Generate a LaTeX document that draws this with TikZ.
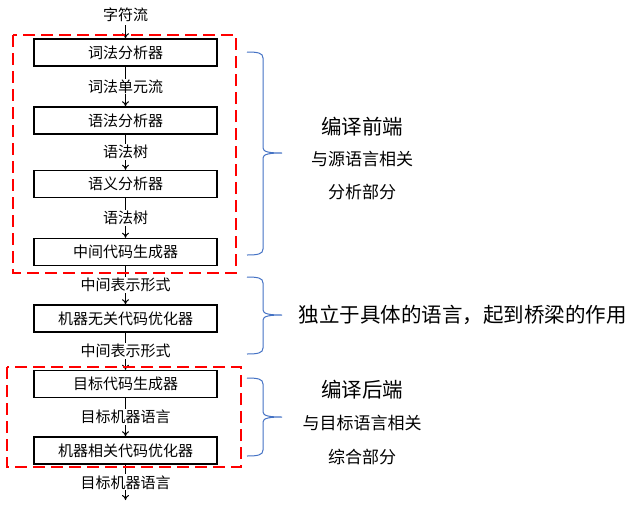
\documentclass[tikz,border=0pt]{standalone}
\usepackage{fontspec}
\setmainfont{Noto Sans CJK SC}
\usetikzlibrary{arrows.meta}

\begin{document}
\begin{tikzpicture}[x=1pt, y=-1pt, font=\fontsize{15}{18}\selectfont,
    stage/.style={draw, line width=1.5pt, minimum width=183pt, minimum height=27pt, inner sep=0pt},
    flow/.style={-{To[length=5pt,width=7pt]}, line width=1pt},
    tag/.style={fill=white, inner sep=1pt},
    part/.style={draw=red, line width=2.2pt, dash pattern=on 12pt off 6pt},
    bracket/.style={draw={rgb,255:red,68;green,114;blue,196}, line width=1pt},
    note/.style={font=\fontsize{17}{20}\selectfont},
    title/.style={font=\fontsize{20.5}{24}\selectfont}]
  \useasboundingbox (0,0) rectangle (637,507);

  % pipeline
  \node (src) at (125.5,15) {字符流};
  \node[stage] (b1) at (125.5,52.5) {词法分析器};
  \node[stage] (b2) at (125.5,120.5) {语法分析器};
  \node[stage] (b3) at (125.5,184) {语义分析器};
  \node[stage] (b4) at (125.5,252) {中间代码生成器};
  \node[stage] (b5) at (125.5,318.5) {机器无关代码优化器};
  \node[stage] (b6) at (125.5,384) {目标代码生成器};
  \node[stage] (b7) at (125.5,450.5) {机器相关代码优化器};
  \coordinate (out) at (125.5,500);

  \draw[flow] (src) -- (b1);
  \draw[flow] (b1) -- node[tag] {词法单元流} (b2);
  \draw[flow] (b2) -- node[tag] {语法树} (b3);
  \draw[flow] (b3) -- node[tag] {语法树} (b4);
  \draw[flow] (b4) -- node[tag] {中间表示形式} (b5);
  \draw[flow] (b5) -- node[tag] {中间表示形式} (b6);
  \draw[flow] (b6) -- node[tag] {目标机器语言} (b7);
  \draw[flow] (b7) -- node[tag] {目标机器语言} (out);

  % front end / back end
  \draw[part] (13,35) rectangle (236,273);
  \draw[part] (7,367) rectangle (241,467);

  % braces
  \foreach \ya/\ym/\yb in {52/153/255, 277/315/354, 378/417/456}
    \draw[bracket] (247,\ya) .. controls (258,\ya) and (263,\ya+1) .. (263,\ya+6)
      -- (263,\ym-5) .. controls (263,\ym-1) and (270,\ym) .. (282,\ym)
      .. controls (270,\ym) and (263,\ym+1) .. (263,\ym+5)
      -- (263,\yb-6) .. controls (263,\yb-1) and (258,\yb) .. (247,\yb);

  \node[title] (fe) at (362,127) {编译前端};
  \node[note] (fe1) at (362,159) {与源语言相关};
  \node[note] (fe2) at (362,192) {分析部分};
  \node[title, anchor=west] (mid) at (295,315) {独立于具体的语言，起到桥梁的作用};
  \node[title] (be) at (362,390) {编译后端};
  \node[note] (be1) at (362,423) {与目标语言相关};
  \node[note] (be2) at (362,457) {综合部分};
\end{tikzpicture}
\end{document}
